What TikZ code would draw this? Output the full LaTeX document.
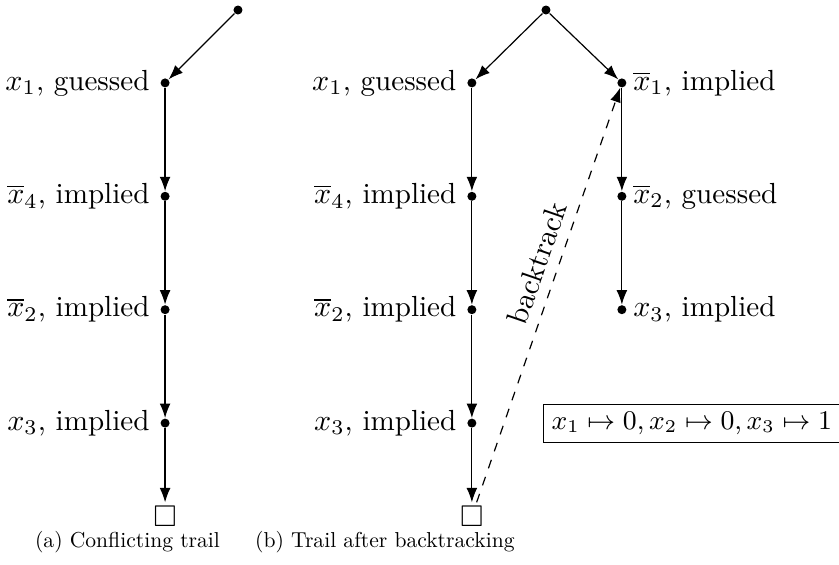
\documentclass[tikz,border=0pt]{standalone}
\usepackage{amsmath,amssymb}
\usepackage{tikz}
\usetikzlibrary{arrows.meta, positioning}
\tikzset{
    dot/.style={circle, fill=black, inner sep=0pt, minimum size=3pt},
    lit/.style={inner sep=0pt, font=\fontsize{9.7}{11}\selectfont},
    conflict/.style={inner sep=1pt},
    assign/.style={rectangle, draw=black, inner sep=2.6pt, font=\fontsize{9}{11}\selectfont},
    caption/.style={font=\normalsize, scale=0.72, transform shape},
    arrow/.style={-Latex, thin},
    backarrow/.style={-Latex, dashed}
}

\begin{document}
\begin{tikzpicture}[x=1pt, y=1pt, node distance=37.8pt, on grid]
    \useasboundingbox (0,0) rectangle (279.67,-188.33);

    % (a) conflicting trail
    \node [dot] (atop) at (79.33,-3.33) {};
    \node [dot, below left=24.3pt and 24.3pt of atop] (ax1) {};
    \node [dot, below=of ax1] (ax4) {};
    \node [dot, below=of ax4] (ax2) {};
    \node [dot, below=of ax2] (ax3) {};
    \node [conflict, below=31pt of ax3] (abox) {$\square$};

    \node [lit, left=5pt of ax1, anchor=east] {$x_1$, guessed};
    \node [lit, left=5pt of ax4, anchor=east] {$\overline{x}_4$, implied};
    \node [lit, left=5pt of ax2, anchor=east] {$\overline{x}_2$, implied};
    \node [lit, left=5pt of ax3, anchor=east] {$x_3$, implied};

    \node [caption] (acap) at (42.5,-180.7) {(a) Conflicting trail};

    % (b) trail after backtracking
    \node [dot] (btop) at (182,-3.33) {};
    \node [dot, below left=24.3pt and 24.7pt of btop] (bx1) {};
    \node [dot, below=of bx1] (bx4) {};
    \node [dot, below=of bx4] (bx2) {};
    \node [dot, below=of bx2] (bx3) {};
    \node [conflict, below=31pt of bx3] (bbox) {$\square$};

    \node [dot, below right=24.3pt and 25.3pt of btop] (bnx1) {};
    \node [dot, below=of bnx1] (bnx2) {};
    \node [dot, below=of bnx2] (bnx3) {};

    \node [lit, left=5pt of bx1, anchor=east] {$x_1$, guessed};
    \node [lit, left=5pt of bx4, anchor=east] {$\overline{x}_4$, implied};
    \node [lit, left=5pt of bx2, anchor=east] {$\overline{x}_2$, implied};
    \node [lit, left=5pt of bx3, anchor=east] {$x_3$, implied};

    \node [lit, right=3.6pt of bnx1, anchor=west] {$\overline{x}_1$, implied};
    \node [lit, right=3.6pt of bnx2, anchor=west] {$\overline{x}_2$, guessed};
    \node [lit, right=3.6pt of bnx3, anchor=west] {$x_3$, implied};

    \node [assign] (model) at (230.6,-141.2) {$x_1 \mapsto 0, x_2 \mapsto 0, x_3 \mapsto 1$};

    \node [caption] (bcap) at (128.3,-180.7) {(b) Trail after backtracking};

    % Arrows
    \draw [arrow] (atop) -- (ax1);
    \draw [arrow] (ax1) -- (ax4);
    \draw [arrow] (ax4) -- (ax2);
    \draw [arrow] (ax2) -- (ax3);
    \draw [arrow] (ax3) -- (abox);

    \draw [arrow] (btop) -- (bx1);
    \draw [arrow] (bx1) -- (bx4);
    \draw [arrow] (bx4) -- (bx2);
    \draw [arrow] (bx2) -- (bx3);
    \draw [arrow] (bx3) -- (bbox);

    \draw [arrow] (btop) -- (bnx1);
    \draw [arrow] (bnx1) -- (bnx2);
    \draw [arrow] (bnx2) -- (bnx3);

    \draw [backarrow] (bbox) -- node [pos=0.56, sloped, above] {backtrack} (bnx1);
\end{tikzpicture}
\end{document}
